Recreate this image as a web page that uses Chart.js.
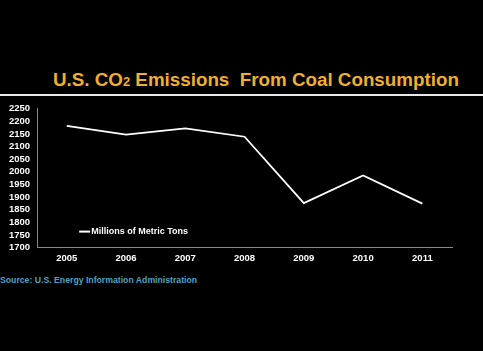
<!DOCTYPE html>
<html>
<head>
<meta charset="utf-8">
<script src="https://cdn.jsdelivr.net/npm/chart.js@4.4.1/dist/chart.umd.min.js"></script>
<style>
  html, body { margin: 0; padding: 0; background: #000; }
  body { width: 483px; height: 351px; position: relative; overflow: hidden; font-family: "Liberation Sans", Arial, sans-serif; }
  #title { position: absolute; left: 53px; top: 69px; color: #f2ae2e; font-weight: bold; font-size: 18.8px; white-space: pre; }
  #title sub { font-size: 13px; vertical-align: baseline; }
  #rule { position: absolute; left: 0; top: 94px; width: 483px; height: 2px; background: #e8e8e8; z-index: 2; }
  #source { position: absolute; left: 0; top: 275px; color: #4fa3c4; font-weight: bold; font-size: 8.7px; white-space: pre; }
  #wrap { position: absolute; left: 0; top: 96px; width: 483px; height: 173px; }
</style>
</head>
<body>
<div id="title">U.S. CO<sub>2</sub> Emissions  From Coal Consumption</div>
<div id="rule"></div>
<div id="source">Source: U.S. Energy Information Administration</div>
<div id="wrap"><canvas id="c"></canvas></div>
<script>
const years = ["2005", "2006", "2007", "2008", "2009", "2010", "2011"];
const emissions = [2182, 2147, 2172, 2139, 1876, 1986, 1874];
const seriesLabel = "Millions of Metric Tons";
const yMin = 1700, yMax = 2250, yStep = 50;

const insideLegend = {
  id: 'insideLegend',
  afterDraw(chart) {
    const ctx = chart.ctx;
    const area = chart.chartArea;
    const ds = chart.data.datasets[0];
    const x = area.left + 42, y = area.bottom - 16;
    ctx.save();
    ctx.strokeStyle = ds.borderColor;
    ctx.lineWidth = 2;
    ctx.beginPath();
    ctx.moveTo(x, y);
    ctx.lineTo(x + 11, y);
    ctx.stroke();
    ctx.fillStyle = '#ffffff';
    ctx.font = 'bold 9px "Liberation Sans", Arial, sans-serif';
    ctx.textBaseline = 'middle';
    ctx.fillText(ds.label, x + 12, y);
    ctx.restore();
  }
};

const tickFont = { family: '"Liberation Sans", Arial, sans-serif', weight: 'bold', size: 9.5 };

new Chart(document.getElementById('c'), {
  type: 'line',
  data: {
    labels: years,
    datasets: [{
      label: seriesLabel,
      data: emissions,
      borderColor: '#ffffff',
      borderWidth: 1.8,
      pointRadius: 0,
      tension: 0,
      fill: false
    }]
  },
  options: {
    responsive: true,
    maintainAspectRatio: false,
    animation: false,
    layout: { padding: { top: 2, right: 31, left: 2, bottom: 0 } },
    plugins: { legend: { display: false }, tooltip: { enabled: false } },
    scales: {
      x: {
        offset: true,
        grid: { display: false, drawTicks: false },
        border: { display: true, color: '#8a8a8a', width: 1 },
        ticks: { color: '#ffffff', font: tickFont, padding: 5, maxRotation: 0, autoSkip: false }
      },
      y: {
        min: yMin, max: yMax,
        grid: { display: false, drawTicks: false },
        border: { display: true, color: '#8a8a8a', width: 1 },
        ticks: { stepSize: yStep, autoSkip: false, color: '#ffffff', font: tickFont, padding: 7,
                 callback: (v) => String(v) }
      }
    }
  },
  plugins: [insideLegend]
});
</script>
</body>
</html>
